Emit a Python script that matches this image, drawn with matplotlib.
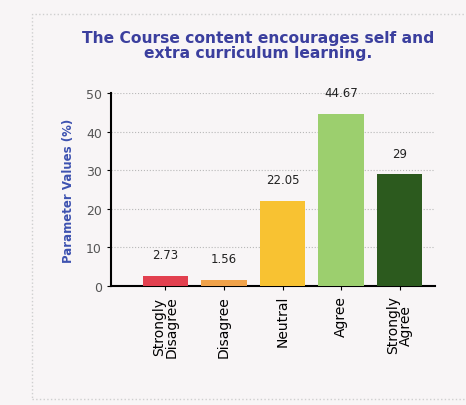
import matplotlib.pyplot as plt

categories = ["Strongly\nDisagree", "Disagree", "Neutral", "Agree", "Strongly\nAgree"]
values = [2.73, 1.56, 22.05, 44.67, 29]
value_labels = ["2.73", "1.56", "22.05", "44.67", "29"]
colors = ["#e2404f", "#f0a24a", "#f8c232", "#9ccf6e", "#2c5a1e"]

bg = "#f8f5f6"
fig = plt.figure(figsize=(4.66, 4.06), dpi=100)
fig.patch.set_facecolor(bg)
ax = fig.add_axes([0.238, 0.293, 0.695, 0.475])
ax.set_facecolor(bg)

x = range(len(values))
ax.bar(x, values, width=0.78, color=colors, zorder=3)
for xi, v, lab in zip(x, values, value_labels):
    ax.text(xi, v + 3.8, lab, ha="center", va="bottom", fontsize=8.5, color="#222222")

ax.set_ylim(0, 50)
ax.set_xlim(-0.93, 4.6)
ax.set_yticks([0, 10, 20, 30, 40, 50])
ax.tick_params(axis="y", labelsize=9, labelcolor="#555555", length=3)
ax.set_xticks(list(x))
ax.set_xticklabels(categories, rotation=90, fontsize=10, linespacing=0.95)
ax.tick_params(axis="x", length=3)
ax.yaxis.grid(True, linestyle=":", color="#b8b8b8", linewidth=0.8, zorder=0)
for s in ["top", "right"]:
    ax.spines[s].set_visible(False)
ax.spines["left"].set_linewidth(1.5)
ax.spines["bottom"].set_linewidth(1.5)

ax.set_ylabel("Parameter Values (%)", fontsize=8.5, color="#3d52b0", fontweight="bold",
              labelpad=8)
fig.text(0.553, 0.887, "The Course content encourages self and\nextra curriculum learning.",
         ha="center", va="center", fontsize=11.2, fontweight="bold", color="#3b3f9e",
         linespacing=1.05)

fig.add_artist(plt.Rectangle((0.069, 0.015), 1.0, 0.948, transform=fig.transFigure,
                             fill=False, edgecolor="#cfcfcf", linewidth=1, linestyle=":"))

fig.savefig("out.png", dpi=100)
